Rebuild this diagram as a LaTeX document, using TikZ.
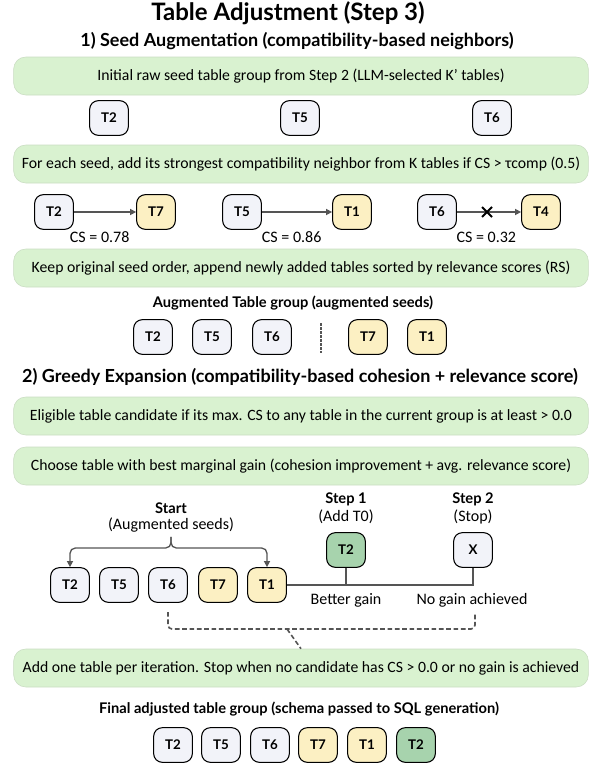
\documentclass[tikz,border=0pt]{standalone}
\usepackage{fontspec}
\setmainfont{Carlito}
\newfontfamily\headfont{Lato}
\usetikzlibrary{positioning, arrows.meta, calc}
\definecolor{boxfill}{HTML}{D9F2D0}
\definecolor{boxdraw}{HTML}{C9DCC2}
\definecolor{seedfill}{HTML}{F2F3F9}
\definecolor{addfill}{HTML}{FCF0C3}
\definecolor{gainfill}{HTML}{A7D3AD}
\definecolor{linecol}{HTML}{555555}

\begin{document}
\begin{tikzpicture}[
			x=0.75pt, y=-0.75pt,
			stepbox/.style={
				draw=boxdraw,
				fill=boxfill,
				rounded corners=9pt,
				minimum width=431pt,
				minimum height=28.5pt,
				font=\fontsize{11.8}{14}\selectfont
			},
			tbl/.style={
				draw=black,
				line width=0.8pt,
				rounded corners=6.5pt,
				minimum width=29pt,
				minimum height=26pt,
				font=\headfont\bfseries\fontsize{10}{12}\selectfont
			},
			seed/.style={tbl, fill=seedfill},
			added/.style={tbl, fill=addfill},
			gain/.style={tbl, fill=gainfill},
			heading/.style={font=\headfont\bfseries\fontsize{13.5}{16}\selectfont},
			label/.style={font=\headfont\bfseries\fontsize{11}{13}\selectfont},
			note/.style={font=\fontsize{12}{14}\selectfont},
			flow/.style={draw=linecol, line width=1pt, -{Triangle[length=4.5pt,width=4.5pt]}},
			bracket/.style={draw=linecol, line width=1.2pt, dash pattern=on 3.5pt off 2pt}
			]
			\useasboundingbox (0,0) rectangle (597,764);
			
			% Titles
			\node[font=\headfont\bfseries\fontsize{18}{21}\selectfont] (title) at (288,13) {Table Adjustment (Step 3)};
			\node[heading] (head1) at (297,41) {1) Seed Augmentation (compatibility-based neighbors)};
			
			% Seed augmentation
			\node[stepbox] (box1) at (301,76) {Initial raw seed table group from Step 2 (LLM-selected K’ tables)};
			\node[seed] (s2) at (109,118) {T2};
			\node[seed] (s5) at (300,118) {T5};
			\node[seed] (s6) at (492,118) {T6};
			
			\node[stepbox] (box2) at (301,164) {For each seed, add its strongest compatibility neighbor from K tables if CS > τcomp (0.5)};
			\node[seed] (n2) at (54,212) {T2};
			\node[added] (n7) at (156,212) {T7};
			\node[seed] (n5) at (242,212) {T5};
			\node[added] (n1) at (352,212) {T1};
			\node[seed] (n6) at (437,212) {T6};
			\node[added] (n4) at (541,212) {T4};
			\draw[flow] (n2) -- node[note, below=11pt, xshift=-4pt] {CS = 0.78} (n7);
			\draw[flow] (n5) -- node[note, below=11pt, xshift=-4pt] {CS = 0.86} (n1);
			\draw[flow] (n6) -- node[note, below=11pt, xshift=-2pt] {CS = 0.32} (n4);
			\draw[line width=1.5pt] (482,207) -- (492,217) (482,217) -- (492,207);
			
			\node[stepbox] (box3) at (301,268) {Keep original seed order, append newly added tables sorted by relevance scores (RS)};
			
			% Augmented group
			\node[label] (auglabel) at (293,303) {Augmented Table group (augmented seeds)};
			\node[seed] (a2) at (153,337) {T2};
			\node[seed] (a5) at (212,337) {T5};
			\node[seed] (a6) at (272,337) {T6};
			\node[added] (a7) at (368,337) {T7};
			\node[added] (a1) at (427,337) {T1};
			\draw[bracket, line width=0.8pt, dash pattern=on 2pt off 1pt] (321,323) -- (321,353);
			
			% Greedy expansion
			\node[heading] (head2) at (300,377) {2) Greedy Expansion (compatibility-based cohesion + relevance score)};
			\node[stepbox] (box4) at (301,416) {Eligible table candidate if its max. CS to any table in the current group is at least > 0.0};
			\node[stepbox] (box5) at (301,466) {Choose table with best marginal gain (cohesion improvement + avg. relevance score)};
			
			\node[label] (start) at (171,508) {Start};
			\node[note] (startsub) at (171,525) {(Augmented seeds)};
			\node[label] (step1) at (346,499) {Step 1};
			\node[note] (step1sub) at (346,517) {(Add T0)};
			\node[label] (step2) at (473,499) {Step 2};
			\node[note] (step2sub) at (473,517) {(Stop)};
			
			\node[seed] (g2) at (70,585) {T2};
			\node[seed] (g5) at (119,585) {T5};
			\node[seed] (g6) at (168,585) {T6};
			\node[added] (g7) at (218,585) {T7};
			\node[added] (g1) at (267,585) {T1};
			\node[gain] (gt) at (346,550) {T2};
			\node[seed] (gx) at (473,550) {X};
			
			\coordinate (brace) at (171,548);
			\draw[flow, rounded corners=4pt] (startsub.south) -- (brace) -| (g2.north);
			\draw[flow, rounded corners=4pt] (startsub.south) -- (brace) -| (g1.north);
			
			\coordinate (join1) at (346,585);
			\coordinate (join2) at (473,585);
			\draw[linecol, line width=1pt] (g1.east) -- (join2) -- (gx.south);
			\draw[linecol, line width=1pt] (gt.south) -- (join1);
			\node[note] (better) at (346,600) {Better gain};
			\node[note] (nogain) at (472,600) {No gain achieved};
			
			\node[stepbox] (box6) at (301,668) {Add one table per iteration. Stop when no candidate has CS > 0.0 or no gain is achieved};
			\coordinate (dash1) at (168,612);
			\coordinate (dash2) at (475,612);
			\draw[bracket, rounded corners=3pt] (dash1) |- (287,629) -| (dash2);
			\draw[bracket] (287,629) -- (box6.north);
			
			% Final group
			\node[label] (finallabel) at (299,709) {Final adjusted table group (schema passed to SQL generation)};
			\node[seed] (f2) at (173,745) {T2};
			\node[seed] (f5) at (221,745) {T5};
			\node[seed] (f6) at (270,745) {T6};
			\node[added] (f7) at (318,745) {T7};
			\node[added] (f1) at (367,745) {T1};
			\node[gain] (ft) at (416,745) {T2};
		\end{tikzpicture}
\end{document}
